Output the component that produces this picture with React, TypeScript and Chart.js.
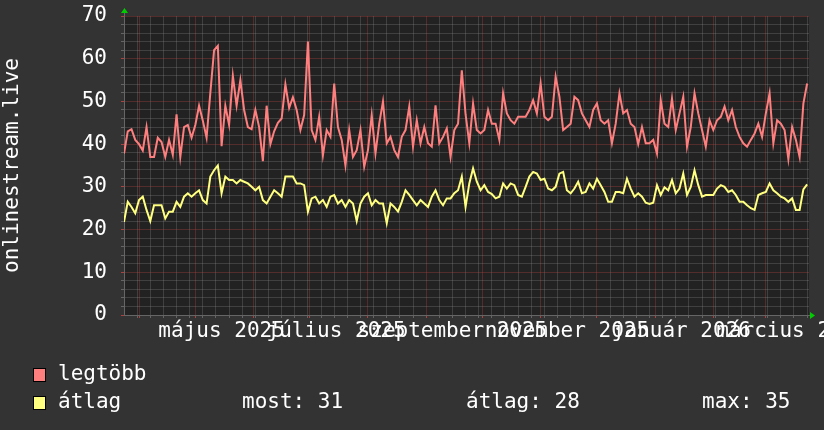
import React, { useEffect, useRef } from 'react';
import { Chart, registerables } from 'chart.js';

Chart.register(...registerables);

// ---- data (one point every 2 days, starting 2025-03-24) ----
const DAY_STEP = 2;
const X_MAX_DAYS = 365;

const legtobbValues = [
  37.8, 43, 43.5, 41, 40, 38.5, 44, 37, 37, 41.5,
  40.5, 37, 41, 37.5, 47, 37, 44, 44.5, 41.5, 44.5,
  49, 45.5, 41.5, 52, 62, 63, 39.5, 49, 44.5, 56,
  49, 55, 48, 44, 43.5, 48, 44, 36, 49, 40,
  43, 45, 46, 54, 48.5, 51, 48,
  43.3, 46.8, 64, 43.3, 41, 46.4, 37.4, 43.3, 41.7, 54.2,
  44, 41, 35, 43.3, 37, 38.6, 43.3, 34.7, 38.6, 46.8,
  37.8, 44.8, 50, 40.2, 41.7, 38.6, 37, 41.7, 43.3, 48.8,
  39.4, 45.6, 40.2, 44, 40.2, 39.4, 49.1, 40.2, 41.7, 43.7,
  37, 43.3, 44.8, 57.3,
  47, 40.2, 49.5, 43.3, 42.5, 43.3, 48, 44.8, 44.8, 41,
  51.9, 47.2, 45.6, 44.8, 46.4, 46.4, 46.4, 48, 50.3, 47.2,
  54.2, 46.4, 45.6, 46.4, 55.8, 51.1, 43.3, 44, 44.8, 51.1,
  50.3, 47.2, 45.6, 44, 48, 49.5, 45.6, 44.8, 45.6, 40.2,
  44.8, 51.9, 47.2, 48, 44.8, 44, 40,
  44, 40.2, 40.2, 41, 37.8, 50.3, 44.8, 44, 50.7, 43.3,
  47.2, 51.1, 39.4, 44, 51.9, 47.2, 43.3, 39.4, 45.6, 43.3,
  45.6, 46.4, 48.8, 45.6, 48, 44, 41.7, 40.2, 39.4, 41,
  42.5, 44.8, 41.7, 47.2, 51.9, 40.2, 45.6, 44.8, 43.3, 36.5,
  44, 41, 37, 49.5, 54.2,
];

const atlagValues = [
  21.8, 26.5, 25.3, 23.8, 26.9, 27.7, 24.6, 22, 25.7, 25.7,
  25.7, 22.6, 24.2, 24.2, 26.5, 25.3, 27.7, 28.5, 27.7, 28.5,
  29.2, 26.9, 26.1, 32.4, 33.9, 35, 28.5, 32.4, 31.6, 31.6,
  30.8, 31.6, 31.2, 30.8, 30, 29.2, 30, 26.9, 26.1, 27.7,
  29.2, 28.5, 27.7, 32.4, 32.4, 32.4, 30.8,
  30.8, 30.4, 24.2, 27.3, 27.7, 26.1, 26.9, 25.3, 27.7, 28.1,
  26.1, 26.9, 25.3, 26.9, 26.1, 22, 26.1, 27.7, 28.5, 25.7,
  26.9, 26.1, 26.1, 21.5, 26.1, 25.3, 24.2, 26.5, 29.2, 28.1,
  26.9, 25.7, 26.9, 26.1, 25.3, 27.7, 29.2, 26.9, 25.7, 27.3,
  27.3, 28.5, 29.2, 32.4,
  25.3, 30.8, 34.3, 31.2, 29.2, 30.4, 28.8, 28.3, 27.3, 27.7,
  30.8, 29.6, 30.8, 30.4, 28.1, 27.7, 30, 32.4, 33.5, 33.1,
  31.6, 31.9, 29.6, 29.2, 30, 33.1, 33.5, 29.2, 28.5, 29.6,
  31.2, 28.5, 28.8, 30.8, 29.6, 31.9, 30.4, 28.8, 26.5, 26.5,
  28.8, 28.8, 28.5, 31.9, 29.6, 27.7, 28.5,
  27.7, 26.3, 26, 26.3, 30.4, 28.1, 29.9, 29.2, 31.6, 28.5,
  29.6, 33.1, 28.1, 30, 33.9, 30.4, 27.7, 28.1, 28.1, 28.1,
  29.6, 30.4, 30, 28.8, 29.2, 28.1, 26.5, 26.5, 25.7, 25,
  24.6, 28.1, 28.5, 28.8, 30.8, 29.2, 28.5, 27.7, 27.3, 26.5,
  27.3, 24.6, 24.6, 29.4, 30.6,
];

// month boundaries (day offsets), month label positions and texts
const monthStartDays = [8, 38, 69, 99, 130, 161, 191, 222, 252, 283, 314, 342];
const monthLabelDays = [52, 113, 175, 236, 297, 356];
const monthLabels = ['május 2025', 'július 2025', 'szeptember 2025', 'november 2025', 'január 2026', 'március 2026'];

const Y_MIN = 0;
const Y_MAX = 70;
const Y_STEP = 2;
const Y_MAJOR = 10;

const axisTitle = 'onlinestream.live';
const seriesNames = ['legtöbb', 'átlag'];
const statNames = ['most', 'átlag', 'max'];
const statValues = [31, 28, 35];

// ---- styles ----
const FONT_FAMILY = '"DejaVu Sans Mono", monospace';
const FONT_SIZE = 21;
const BG = '#333333';
const CANVAS_BG = '#222222';
const RED = '#ff7f7f';
const YELLOW = '#ffff80';
const MINOR_GRID = 'rgba(150,150,150,0.26)';
const MAJOR_GRID = 'rgba(200,70,70,0.3)';
const MINOR_TICK = 'rgba(150,150,150,0.5)';
const MAJOR_TICK = 'rgba(200,70,70,0.8)';
const AXIS = '#666666';
const ARROW = '#00cc00';
const TEXT = '#ffffff';

const weekDays: number[] = [];
for (let d = 7; d < X_MAX_DAYS; d += 7) weekDays.push(d);

const toPoints = (vals: number[]) => vals.map((v, i) => ({ x: i * DAY_STEP, y: v }));

const bgPlugin = {
  id: 'canvasBg',
  beforeDraw(chart: any) {
    const { ctx, chartArea } = chart;
    ctx.save();
    ctx.fillStyle = CANVAS_BG;
    ctx.fillRect(chartArea.left, chartArea.top, chartArea.right - chartArea.left, chartArea.bottom - chartArea.top);
    ctx.restore();
  },
};

const decoPlugin = {
  id: 'deco',
  afterDraw(chart: any) {
    const { ctx, chartArea } = chart;
    const { left, right, bottom, top } = chartArea;
    ctx.save();
    ctx.strokeStyle = AXIS;
    ctx.lineWidth = 1;
    ctx.beginPath();
    ctx.moveTo(left + 0.5, top);
    ctx.lineTo(left + 0.5, top - 4);
    ctx.moveTo(right, bottom + 0.5);
    ctx.lineTo(right + 2, bottom + 0.5);
    ctx.stroke();
    ctx.fillStyle = ARROW;
    ctx.beginPath();
    ctx.moveTo(left - 3, top - 3);
    ctx.lineTo(left + 4, top - 3);
    ctx.lineTo(left + 0.5, top - 8);
    ctx.closePath();
    ctx.fill();
    ctx.beginPath();
    ctx.moveTo(right + 1, bottom - 3);
    ctx.lineTo(right + 1, bottom + 4);
    ctx.lineTo(right + 6, bottom + 0.5);
    ctx.closePath();
    ctx.fill();

    // legend
    ctx.font = `${FONT_SIZE}px ${FONT_FAMILY}`;
    ctx.textBaseline = 'middle';
    ctx.textAlign = 'left';
    const rows = [375, 403];
    const colors = [RED, YELLOW];
    rows.forEach((y, i) => {
      ctx.fillStyle = colors[i];
      ctx.fillRect(33, y - 7, 13, 14);
      ctx.strokeStyle = '#000000';
      ctx.strokeRect(33.5, y - 6.5, 12, 13);
      ctx.fillStyle = TEXT;
      ctx.fillText(seriesNames[i], 58, y);
    });
    const statX = [242, 466, 702];
    statNames.forEach((n, i) => {
      ctx.fillText(`${n}: ${statValues[i]}`, statX[i], rows[1]);
    });
    ctx.restore();
  },
};

const xKind = (ctx: any) => {
  const v = ctx.tick ? ctx.tick.value : -1;
  if (monthStartDays.includes(v)) return 2;
  if (weekDays.includes(v)) return 1;
  return 0;
};

export default function App() {
  const ref = useRef<HTMLCanvasElement>(null);

  useEffect(() => {
    if (!ref.current) return;
    const font = { family: FONT_FAMILY, size: FONT_SIZE };
    const chart = new Chart(ref.current, {
      type: 'line',
      data: {
        datasets: [
          {
            label: seriesNames[0],
            data: toPoints(legtobbValues),
            borderColor: RED,
            borderWidth: 2,
            pointRadius: 0,
            tension: 0,
          },
          {
            label: seriesNames[1],
            data: toPoints(atlagValues),
            borderColor: YELLOW,
            borderWidth: 2,
            pointRadius: 0,
            tension: 0,
          },
        ],
      },
      options: {
        animation: false,
        responsive: false,
        devicePixelRatio: 1,
        layout: { padding: { top: 16, right: 15, left: 0, bottom: 0 } },
        plugins: { legend: { display: false }, tooltip: { enabled: false } },
        scales: {
          x: {
            type: 'linear',
            min: 0,
            max: X_MAX_DAYS,
            afterBuildTicks(scale: any) {
              const set = new Set<number>([...weekDays, ...monthStartDays, ...monthLabelDays]);
              scale.ticks = Array.from(set).sort((a, b) => a - b).map((v) => ({ value: v }));
            },
            afterFit(scale: any) {
              scale.height = 115;
              scale.paddingLeft = 0;
              scale.paddingRight = 0;
            },
            ticks: {
              autoSkip: false,
              maxRotation: 0,
              minRotation: 0,
              padding: 1,
              color: TEXT,
              font,
              callback(value: any) {
                const idx = monthLabelDays.indexOf(Number(value));
                return idx >= 0 ? monthLabels[idx] : '';
              },
            },
            grid: {
              drawTicks: true,
              tickLength: 3,
              lineWidth: 1,
              color: (ctx: any) => ['rgba(0,0,0,0)', MINOR_GRID, MAJOR_GRID][xKind(ctx)],
              tickColor: (ctx: any) => ['rgba(0,0,0,0)', MINOR_TICK, MAJOR_TICK][xKind(ctx)],
            },
            border: { display: true, color: AXIS, width: 1 },
          },
          y: {
            type: 'linear',
            min: Y_MIN,
            max: Y_MAX,
            afterFit(scale: any) {
              scale.width = 124;
              scale.paddingTop = 0;
              scale.paddingBottom = 0;
            },
            title: {
              display: true,
              text: axisTitle,
              color: TEXT,
              font,
              padding: 0,
            },
            ticks: {
              stepSize: Y_STEP,
              autoSkip: false,
              padding: 14,
              color: TEXT,
              font,
              callback(value: any) {
                return Number(value) % Y_MAJOR === 0 ? String(value) : '';
              },
            },
            grid: {
              drawTicks: true,
              tickLength: 3,
              lineWidth: 1,
              color(ctx: any) {
                const v = ctx.tick ? ctx.tick.value : -1;
                if (v === Y_MIN) return 'rgba(0,0,0,0)';
                return v % Y_MAJOR === 0 ? MAJOR_GRID : MINOR_GRID;
              },
              tickColor(ctx: any) {
                const v = ctx.tick ? ctx.tick.value : -1;
                return v % Y_MAJOR === 0 ? MAJOR_TICK : MINOR_TICK;
              },
            },
            border: { display: true, color: AXIS, width: 1 },
          },
        },
      },
      plugins: [bgPlugin, decoPlugin],
    } as any);
    return () => chart.destroy();
  }, []);

  return (
    <div style={{ position: 'fixed', left: 0, top: 0, width: 824, height: 430, background: BG }}>
      <canvas ref={ref} width={824} height={430} style={{ display: 'block' }} />
    </div>
  );
}
